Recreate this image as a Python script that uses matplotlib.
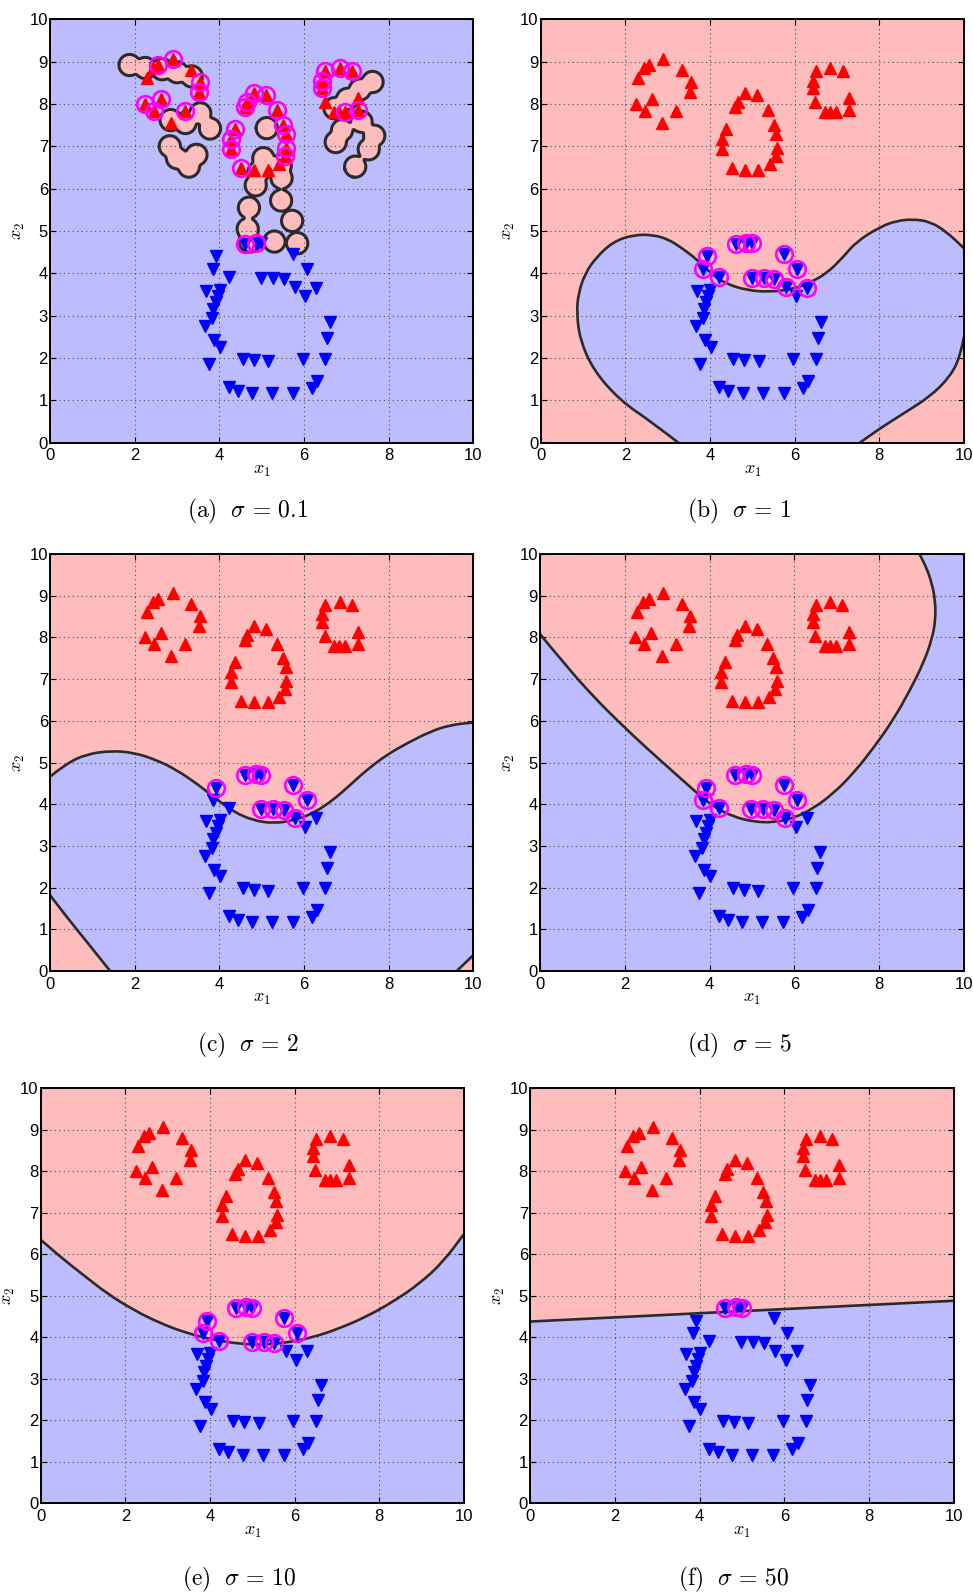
# ---------------------------------------------------------
# Decision regions of a Gaussian-kernel classifier on the
#	two-class toy set, for six kernel widths.
#	Support vectors are ringed in magenta.
# ---------------------------------------------------------

import numpy as np
import matplotlib.pyplot as plt
from matplotlib.path import Path
from matplotlib.patches import PathPatch



######## ######## ######## ######## 
# DATA

# class +1 (red, upward triangles): three rings at the top
redX = [2.29, 2.43, 2.56, 2.90, 3.34, 3.54, 3.52, 2.25, 2.62, 2.46, 3.20, 2.87,
	4.83, 4.65, 4.60, 5.11, 5.36, 4.37, 4.28, 4.28, 5.50, 5.57, 5.58, 5.55, 5.41, 4.52, 4.83, 5.14,
	6.50, 6.84, 7.13, 6.43, 6.43, 6.49, 7.28, 7.28, 6.72, 6.83, 6.98]
redY = [8.61, 8.84, 8.92, 9.06, 8.80, 8.52, 8.28, 8.00, 8.11, 7.83, 7.83, 7.56,
	8.27, 8.05, 7.94, 8.21, 7.85, 7.40, 7.18, 6.93, 7.50, 7.29, 6.95, 6.77, 6.58, 6.48, 6.45, 6.45,
	8.77, 8.84, 8.77, 8.55, 8.37, 8.04, 8.14, 7.85, 7.80, 7.80, 7.80]

# class -1 (blue, downward triangles): one ring at the bottom
bluX = [4.61, 4.86, 4.99, 3.92, 3.84, 4.22, 4.98, 5.27, 5.52, 5.75, 6.06, 5.79, 6.29,
	3.69, 4.01, 3.96, 3.91, 3.86, 3.83, 3.66, 3.87, 4.02, 3.76, 4.55, 4.81, 5.15,
	5.97, 6.50, 6.54, 6.61, 6.03, 4.22, 4.43, 4.77, 5.24, 5.74, 6.19, 6.31]
bluY = [4.70, 4.72, 4.71, 4.40, 4.11, 3.91, 3.88, 3.88, 3.86, 4.46, 4.11, 3.67, 3.66,
	3.59, 3.61, 3.47, 3.32, 3.16, 2.94, 2.76, 2.43, 2.27, 1.87, 1.98, 1.95, 1.93,
	1.98, 1.98, 2.48, 2.86, 3.46, 1.32, 1.23, 1.17, 1.17, 1.17, 1.30, 1.46]

# kernel widths and panel tags
sigmaVals = ['0.1', '1', '2', '5', '10', '50']
panelTags = ['a', 'b', 'c', 'd', 'e', 'f']

# support vector indices for each width
svRed = [[2, 3, 5, 6, 7, 8, 9, 10, 12, 13, 14, 15, 16, 17, 18, 19, 20, 21, 22, 23, 25,
		28, 29, 30, 31, 32, 35, 38],
	[], [], [], [], []]
svBlu = [[0, 1],
	[0, 1, 2, 3, 4, 5, 6, 7, 8, 9, 10, 11, 12],
	[0, 1, 2, 3, 6, 7, 8, 9, 10, 11],
	[0, 1, 2, 3, 4, 5, 6, 7, 8, 9, 10, 11],
	[0, 1, 2, 3, 4, 5, 6, 7, 8, 9, 10],
	[0, 1, 2]]

# sigma = 0.1 : centres of the small positive islands
blobX = [1.88, 2.25, 2.65, 3.00, 3.35,
	2.85, 3.20, 3.55, 3.78,
	2.83, 3.00, 3.28, 3.46,
	5.12, 5.04, 4.93, 4.86, 4.70, 4.67, 4.72, 5.30, 5.84, 5.72, 5.46, 5.47, 5.45,
	6.72, 7.02, 7.32, 7.62, 7.36, 6.90, 6.75, 7.66, 7.53, 7.21]
blobY = [8.92, 8.85, 8.82, 8.75, 8.65,
	7.62, 7.55, 7.78, 7.42,
	7.00, 6.72, 6.52, 6.80,
	7.43, 6.72, 6.40, 6.08, 5.55, 5.05, 4.75, 4.75, 4.71, 5.24, 5.72, 6.25, 6.55,
	7.90, 8.12, 8.34, 8.52, 7.58, 7.38, 7.10, 7.25, 6.93, 6.52]

# sigma = 1 : main boundary (bottom edge -> right edge) and lower right piece
b1MainX = [3.25, 2.66, 1.87, 1.24, 0.93, 0.85, 0.89, 1.05, 1.32, 1.72, 2.19, 2.66, 3.02, 3.30,
	3.60, 3.84, 4.08, 4.39, 4.87, 5.42, 5.97, 6.36, 6.76, 7.15, 7.46, 8.02, 8.41, 8.80, 9.20,
	9.59, 10.0]
b1MainY = [0.00, 0.46, 1.00, 1.72, 2.43, 3.06, 3.53, 4.00, 4.39, 4.75, 4.91, 4.91, 4.80, 4.62,
	4.40, 4.18, 3.95, 3.75, 3.60, 3.56, 3.63, 3.78, 4.00, 4.39, 4.75, 5.10, 5.24, 5.28, 5.22,
	4.98, 4.59]
b1LowX = [10.0, 9.91, 9.67, 9.20, 8.57, 8.02, 7.54]
b1LowY = [2.50, 2.03, 1.56, 1.09, 0.69, 0.34, 0.00]

# sigma = 2 : upper boundary plus the two bottom corners
b2UpX = [0.00, 0.39, 0.87, 1.42, 1.97, 2.52, 2.99, 3.46, 3.86, 4.33, 4.80, 5.28, 5.75, 6.22,
	6.69, 7.09, 7.48, 7.95, 8.43, 8.98, 9.45, 10.0]
b2UpY = [4.66, 4.98, 5.20, 5.28, 5.24, 5.06, 4.82, 4.50, 4.18, 3.82, 3.61, 3.54, 3.61, 3.78,
	4.10, 4.46, 4.82, 5.18, 5.46, 5.74, 5.90, 5.96]
b2LeftX = [0.00, 0.39, 0.87, 1.42]
b2LeftY = [1.82, 1.30, 0.70, 0.00]
b2RightX = [9.61, 10.0]
b2RightY = [0.00, 0.38]

# sigma = 5 : left edge -> top edge
b5X = [0.00, 0.63, 1.26, 1.89, 2.52, 3.14, 3.62, 4.09, 4.56, 5.03, 5.50, 5.97, 6.45, 6.92,
	7.39, 7.86, 8.33, 8.73, 9.04, 9.24, 9.33, 9.32, 9.24, 9.12, 8.95]
b5Y = [8.08, 7.30, 6.58, 5.94, 5.34, 4.78, 4.34, 3.94, 3.70, 3.58, 3.56, 3.66, 3.90, 4.26,
	4.74, 5.34, 6.02, 6.74, 7.38, 7.94, 8.42, 8.90, 9.30, 9.66, 10.0]

# sigma = 10 : left edge -> right edge
b10X = [0.00, 0.46, 1.01, 1.56, 2.19, 2.82, 3.45, 4.08, 4.71, 5.26, 5.81, 6.44, 7.07, 7.70,
	8.33, 8.96, 9.51, 10.0]
b10Y = [6.35, 5.94, 5.50, 5.06, 4.66, 4.34, 4.10, 3.94, 3.84, 3.82, 3.87, 4.00, 4.22, 4.50,
	4.86, 5.30, 5.82, 6.49]

# sigma = 50 : almost a straight line
b50X = [0.0, 10.0]
b50Y = [4.38, 4.88]


######## ######## ######## ######## 
# PARAMETERS

W = 973.
H = 1593.

posCol = '#ffbcbc'
negCol = '#bcbcff'
lineCol = '#2b2b2b'

# axes boxes in pixels: left, top, right, bottom
axBox = [(50.0, 19.3, 473.3, 442.7), (540.7, 19.3, 964.0, 442.7),
	(50.0, 554.0, 473.3, 971.0), (540.0, 554.0, 964.0, 971.0),
	(40.7, 1088.3, 464.0, 1503.3), (530.0, 1088.3, 954.0, 1503.3)]

# caption centres in pixels
capPos = [(248, 511), (739, 511), (248, 1045), (739, 1045), (239, 1579), (733, 1579)]

plt.rcParams['mathtext.fontset'] = 'cm'
plt.rcParams['font.family'] = ['Liberation Sans', 'DejaVu Sans']


######## ######## ######## ######## 
# ANCILLARY FUNCTION(S)

def addAxesPx(fig, box) :
	x0, y0, x1, y1 = box
	return fig.add_axes([x0 / W, 1 - y1 / H, (x1 - x0) / W, (y1 - y0) / H])
#end def ######## ######## ######## 


def pieceVerts(xs, ys, first) :

	# quadratic Bezier pieces through the midpoints, so the polyline comes out smooth
	verts = [(xs[0], ys[0])]
	codes = [Path.MOVETO if first else Path.LINETO]
	if len(xs) == 1 :
		return verts, codes
	for i in range(1, len(xs) - 1) :
		verts += [(xs[i], ys[i]), ((xs[i] + xs[i+1]) / 2., (ys[i] + ys[i+1]) / 2.)]
		codes += [Path.CURVE3, Path.CURVE3]
	verts.append((xs[-1], ys[-1]))
	codes.append(Path.LINETO)
	return verts, codes
#end def ######## ######## ######## 


def buildPath(pieces, closed) :
	allV = list()
	allC = list()
	for j, (xs, ys) in enumerate(pieces) :
		v, c = pieceVerts(xs, ys, j == 0)
		allV += v
		allC += c
	if closed :
		allV.append(allV[0])
		allC.append(Path.CLOSEPOLY)
	return Path(allV, allC)
#end def ######## ######## ######## 


def addRegion(ax, pieces, col) :
	ax.add_patch(PathPatch(buildPath(pieces, True), fc=col, ec='none', lw=0, zorder=0.5))
	return
#end def ######## ######## ######## 


def addBoundary(ax, xs, ys) :
	ax.add_patch(PathPatch(buildPath([(xs, ys)], False), fill=False, ec=lineCol,
		lw=1.9, zorder=2, capstyle='round', joinstyle='round'))
	return
#end def ######## ######## ######## 


def styleAxes(ax) :

	ax.set_xlim(0, 10)
	ax.set_ylim(0, 10)
	ax.set_xticks(range(0, 11, 2))
	ax.set_yticks(range(0, 11))
	ax.grid(True, color='#505050', linestyle=(0, (1, 3)), linewidth=0.8)
	ax.tick_params(direction='in', top=True, right=True, length=4, width=0.8,
		labelsize=12, colors='black')
	ax.tick_params(axis='x', pad=4)
	ax.tick_params(axis='y', pad=1.5)
	for sp in ax.spines.values() :
		sp.set_linewidth(1.4)

	ax.annotate(r'$x_1$', xy=(0.5, 0), xycoords='axes fraction', xytext=(0, -20),
		textcoords='offset points', ha='center', va='center', fontsize=13)
	ax.annotate(r'$x_2$', xy=(0, 0.5), xycoords='axes fraction', xytext=(-23, 0),
		textcoords='offset points', ha='center', va='center', fontsize=13, rotation=90)
	return
#end def ######## ######## ######## 


def drawRegions(ax, k) :

	if k == 0 :
		# sum of narrow bumps around the island centres
		gx = np.linspace(0, 10, 1001)
		GX, GY = np.meshgrid(gx, gx)
		field = np.zeros_like(GX)
		bw = 0.08
		for cx, cy in zip(blobX, blobY) :
			field += np.exp(-((GX - cx)**2 + (GY - cy)**2) / (2 * bw**2))
		thr = np.exp(-0.25**2 / (2 * bw**2))
		ax.set_facecolor(negCol)
		ax.contourf(gx, gx, field, levels=[thr, field.max() + 1], colors=[posCol], zorder=0.5)
		ax.contour(gx, gx, field, levels=[thr], colors=[lineCol], linewidths=2.2, zorder=2)

	elif k == 1 :
		ax.set_facecolor(posCol)
		addRegion(ax, [(b1MainX, b1MainY), (b1LowX, b1LowY)], negCol)
		addBoundary(ax, b1MainX, b1MainY)
		addBoundary(ax, b1LowX, b1LowY)

	elif k == 2 :
		ax.set_facecolor(posCol)
		addRegion(ax, [(b2UpX, b2UpY), (b2RightX[::-1], b2RightY[::-1]),
			(b2LeftX[::-1], b2LeftY[::-1])], negCol)
		addBoundary(ax, b2UpX, b2UpY)
		addBoundary(ax, b2LeftX, b2LeftY)
		addBoundary(ax, b2RightX, b2RightY)

	elif k == 3 :
		ax.set_facecolor(negCol)
		addRegion(ax, [(b5X, b5Y), ([0.0], [10.0])], posCol)
		addBoundary(ax, b5X, b5Y)

	elif k == 4 :
		ax.set_facecolor(posCol)
		addRegion(ax, [(b10X, b10Y), ([10.0, 0.0], [0.0, 0.0])], negCol)
		addBoundary(ax, b10X, b10Y)

	else :
		ax.set_facecolor(posCol)
		addRegion(ax, [(b50X, b50Y), ([10.0, 0.0], [0.0, 0.0])], negCol)
		addBoundary(ax, b50X, b50Y)
	#end if

	return
#end def ######## ######## ######## 


def drawPoints(ax, k) :

	ax.plot(redX, redY, '^', color='#ff0000', mec='#ff0000', ms=8.5, ls='none', zorder=3)
	ax.plot(bluX, bluY, 'v', color='#0000ff', mec='#0000ff', ms=8.5, ls='none', zorder=3)

	sx = [redX[i] for i in svRed[k]] + [bluX[i] for i in svBlu[k]]
	sy = [redY[i] for i in svRed[k]] + [bluY[i] for i in svBlu[k]]
	ax.plot(sx, sy, 'o', mfc='none', mec='#ff00ff', ms=12, mew=1.9, ls='none', zorder=4)
	return
#end def ######## ######## ######## 




######## ######## ######## ######## 
# PRIMARY FUNCTION(S)

def drawFigure(outName) :

	fig = plt.figure(figsize=(W / 100, H / 100), dpi=100)

	for k in range(len(sigmaVals)) :
		ax = addAxesPx(fig, axBox[k])
		drawRegions(ax, k)
		drawPoints(ax, k)
		styleAxes(ax)

		cx, cy = capPos[k]
		fig.text(cx / W, 1 - cy / H,
			r'$\mathrm{(' + panelTags[k] + r')}\ \ \sigma\,=\,' + sigmaVals[k] + '$',
			ha='center', va='center', fontsize=17)
	#end for

	fig.savefig(outName, dpi=100)
	plt.close(fig)
	return
#end def ######## ######## ######## 



######## ######## ######## ######## 
# FUNCTION CALL

drawFigure('out.png')
